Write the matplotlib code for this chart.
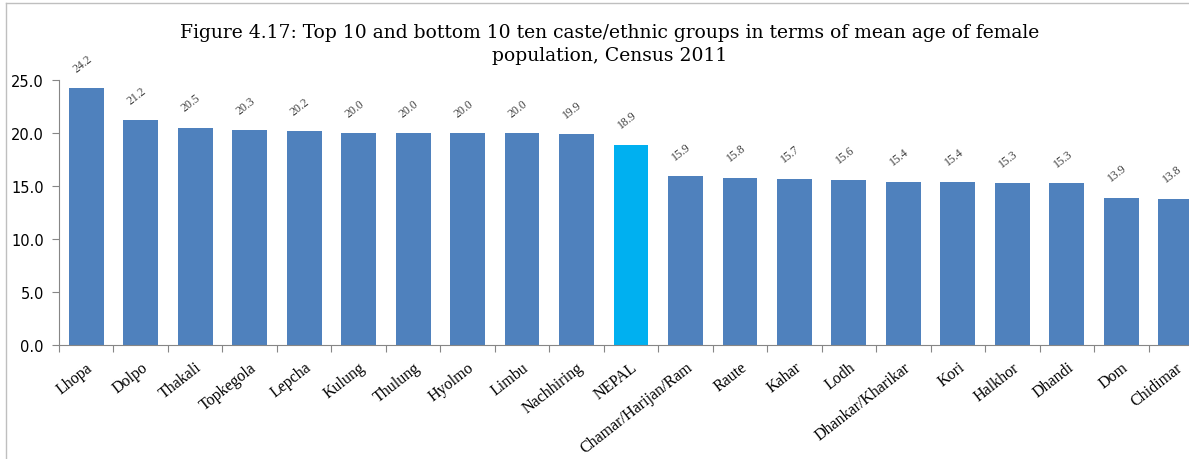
import matplotlib.pyplot as plt
from matplotlib.lines import Line2D
from matplotlib.transforms import ScaledTranslation

# data
groups = ['Lhopa', 'Dolpo', 'Thakali', 'Topkegola', 'Lepcha', 'Kulung', 'Thulung',
          'Hyolmo', 'Limbu', 'Nachhiring', 'NEPAL', 'Chamar/Harijan/Ram', 'Raute',
          'Kahar', 'Lodh', 'Dhankar/Kharikar', 'Kori', 'Halkhor', 'Dhandi', 'Dom',
          'Chidimar']
mean_age = [24.2, 21.2, 20.5, 20.3, 20.2, 20.0, 20.0, 20.0, 20.0, 19.9, 18.9,
            15.9, 15.8, 15.7, 15.6, 15.4, 15.4, 15.3, 15.3, 13.9, 13.8]
yticks = [0, 5, 10, 15, 20, 25]

serif = ['Liberation Serif', 'DejaVu Serif']
wide_serif = ['DejaVu Serif']
sans = ['DejaVu Sans']

colors = ['#00B0F0' if g == 'NEPAL' else '#4F81BD' for g in groups]

fig = plt.figure(figsize=(11.89, 4.6), dpi=100)
# axes run past the right edge, the reference is cut there
ax = fig.add_axes([59 / 1189, 114 / 460, 1144 / 1189, 265 / 460])

x = range(len(groups))
bars = ax.bar(x, mean_age, width=0.64, color=colors, edgecolor='none')

for xi, v in zip(x, mean_age):
    ax.annotate(f'{v:.1f}', (xi, v), xytext=(-4, 25), textcoords='offset pixels',
                rotation=38, ha='center', va='center', fontsize=8.5,
                family=serif, color='#404040', annotation_clip=False)

ax.set_xlim(-0.5, len(groups) - 0.5)
ax.set_ylim(0, 25)
ax.set_yticks(yticks)
ax.set_yticklabels([f'{t:.1f}' for t in yticks], family=sans, fontsize=10.5)
ax.set_xticks([i - 0.5 for i in range(len(groups))])
ax.set_xticklabels([])
ax.set_xticks(list(x), minor=True)
ax.set_xticklabels(groups, minor=True, rotation=38, ha='right', va='top',
                   rotation_mode='anchor', family=serif, fontsize=11.5)
shift = ScaledTranslation(6 / 72, 0, fig.dpi_scale_trans)
for lab in ax.get_xticklabels(minor=True):
    lab.set_transform(lab.get_transform() + shift)
ax.tick_params(axis='x', which='minor', length=0, pad=10)
ax.tick_params(axis='x', which='major', length=5, color='#868686')
ax.tick_params(axis='y', length=5, color='#868686', pad=6)

for s in ['top', 'right']:
    ax.spines[s].set_visible(False)
for s in ['left', 'bottom']:
    ax.spines[s].set_color('#868686')

fig.text(0.513, 0.928, 'Figure 4.17: Top 10 and bottom 10 ten caste/ethnic groups in terms of mean age of female',
         ha='center', va='center', family=wide_serif, fontsize=13.5)
fig.text(0.513, 0.878, 'population, Census 2011', ha='center', va='center',
         family=wide_serif, fontsize=13.5)

# light frame around the chart area
fig.add_artist(Line2D([6 / 1189, 6 / 1189], [0, 456 / 460], color='#BFBFBF', lw=1))
fig.add_artist(Line2D([6 / 1189, 1], [456 / 460, 456 / 460], color='#BFBFBF', lw=1))

fig.savefig('out.png', dpi=100)
